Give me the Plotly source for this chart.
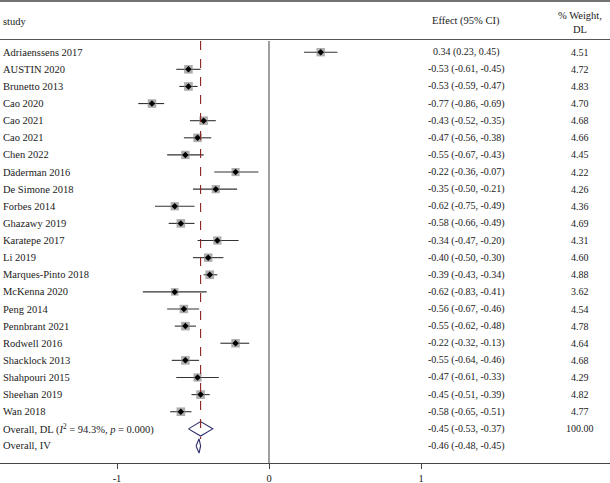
import plotly.graph_objects as go

studies = ["Adriaenssens 2017", "AUSTIN 2020", "Brunetto 2013", "Cao 2020", "Cao 2021", "Cao 2021",
           "Chen 2022", "Däderman 2016", "De Simone 2018", "Forbes 2014", "Ghazawy 2019",
           "Karatepe 2017", "Li 2019", "Marques-Pinto 2018", "McKenna 2020", "Peng 2014",
           "Pennbrant 2021", "Rodwell 2016", "Shacklock 2013", "Shahpouri 2015", "Sheehan 2019",
           "Wan 2018"]
effect = [0.34, -0.53, -0.53, -0.77, -0.43, -0.47, -0.55, -0.22, -0.35, -0.62, -0.58,
          -0.34, -0.40, -0.39, -0.62, -0.56, -0.55, -0.22, -0.55, -0.47, -0.45, -0.58]
lower = [0.23, -0.61, -0.59, -0.86, -0.52, -0.56, -0.67, -0.36, -0.50, -0.75, -0.66,
         -0.47, -0.50, -0.43, -0.83, -0.67, -0.62, -0.32, -0.64, -0.61, -0.51, -0.65]
upper = [0.45, -0.45, -0.47, -0.69, -0.35, -0.38, -0.43, -0.07, -0.21, -0.49, -0.49,
         -0.20, -0.30, -0.34, -0.41, -0.46, -0.48, -0.13, -0.46, -0.33, -0.39, -0.51]
weights = [4.51, 4.72, 4.83, 4.70, 4.68, 4.66, 4.45, 4.22, 4.26, 4.36, 4.69,
           4.31, 4.60, 4.88, 3.62, 4.54, 4.78, 4.64, 4.68, 4.29, 4.82, 4.77]

overall_labels = ["Overall, DL (<i>I</i><sup>2</sup> = 94.3%, <i>p</i> = 0.000)", "Overall, IV"]
overall_effect = [-0.45, -0.46]
overall_lower = [-0.53, -0.48]
overall_upper = [-0.37, -0.45]
overall_weight = ["100.00", ""]

x_ticks = [-1, 0, 1]

FONT = "Liberation Serif"
TXT = "#1a1a1a"
fs = 10.5
fsn = 10

n = len(studies)
rows = list(range(n))
fig = go.Figure()

# CI lines + squares
fig.add_trace(go.Scatter(
    x=effect, y=rows, mode="markers",
    marker=dict(symbol="square", size=[3.95 * w ** 0.5 for w in weights], color="#8a8a8a",
                line=dict(width=0)),
    error_x=dict(type="data", symmetric=False,
                 array=[u - e for u, e in zip(upper, effect)],
                 arrayminus=[e - l for e, l in zip(effect, lower)],
                 width=0, thickness=1.1, color="#333333"),
    hoverinfo="skip", showlegend=False))
fig.add_trace(go.Scatter(
    x=effect, y=rows, mode="markers",
    marker=dict(symbol="diamond", size=5, color="black"),
    hoverinfo="skip", showlegend=False))

# overall diamonds
h = 0.42
for k in range(2):
    r = n + k
    e, lo, hi = overall_effect[k], overall_lower[k], overall_upper[k]
    fig.add_trace(go.Scatter(
        x=[lo, e, hi, e, lo], y=[r, r - h, r, r + h, r], mode="lines",
        line=dict(color="#2b2b6b", width=1.1), hoverinfo="skip", showlegend=False))

# reference lines
ytop_line = -0.654
ybot = 23.995
fig.add_shape(type="line", x0=0, x1=0, y0=ytop_line, y1=ybot, line=dict(color="#808080", width=1.5))
fig.add_shape(type="line", x0=overall_effect[0], x1=overall_effect[0], y0=ytop_line, y1=n + 0.6,
              line=dict(color="#8b2222", width=1.1, dash="dash"))
# horizontal rules
fig.add_shape(type="line", xref="paper", x0=0, x1=1, y0=-2.99, y1=-2.99, line=dict(color="#444444", width=1.5))
fig.add_shape(type="line", xref="paper", x0=0, x1=1, y0=-0.742, y1=-0.742, line=dict(color="#555555", width=1))

ann = []
def txt(x, y, s, anchor="left", size=fs):
    ann.append(dict(x=x, y=y, xref="paper", yref="y", text=s, showarrow=False, xanchor=anchor,
                    yanchor="middle", font=dict(family=FONT, size=size, color=TXT)))

EX = 466 / 610
WX = 580 / 610
LX = 1 / 610
txt(LX, -1.822, "study")
txt(EX, -1.822, "Effect (95% CI)", "center")
txt(WX, -2.173, "% Weight,", "center")
txt(WX, -1.355, "DL", "center")

for i in range(n):
    txt(LX, i, studies[i])
    txt(EX, i, "%.2f (%.2f, %.2f)" % (effect[i], lower[i], upper[i]), "center", fsn)
    txt(WX, i, "%.2f" % weights[i], "center", fsn)
for k in range(2):
    r = n + k
    txt(LX, r, overall_labels[k])
    txt(EX, r, "%.2f (%.2f, %.2f)" % (overall_effect[k], overall_lower[k], overall_upper[k]), "center", fsn)
    if overall_weight[k]:
        txt(WX, r, overall_weight[k], "center", fsn)

fig.update_layout(
    width=610, height=483, margin=dict(l=0, r=0, t=0, b=20, pad=0),
    paper_bgcolor="white", plot_bgcolor="white",
    annotations=ann,
    xaxis=dict(range=[-269 / 152, 341 / 152], tickvals=x_ticks,
               ticktext=[str(v) for v in x_ticks], showgrid=False, zeroline=False,
               showline=True, linecolor="#444444", linewidth=1.2,
               ticks="outside", ticklen=5, tickcolor="#444444", tickwidth=1,
               tickfont=dict(family=FONT, size=fs, color=TXT)),
    yaxis=dict(range=[ybot, -3.049], visible=False, showgrid=False, zeroline=False),
)

fig.write_html("out.html", config={"displayModeBar": False},
               post_script="document.body.style.margin='0px';document.body.style.overflow='hidden';")
